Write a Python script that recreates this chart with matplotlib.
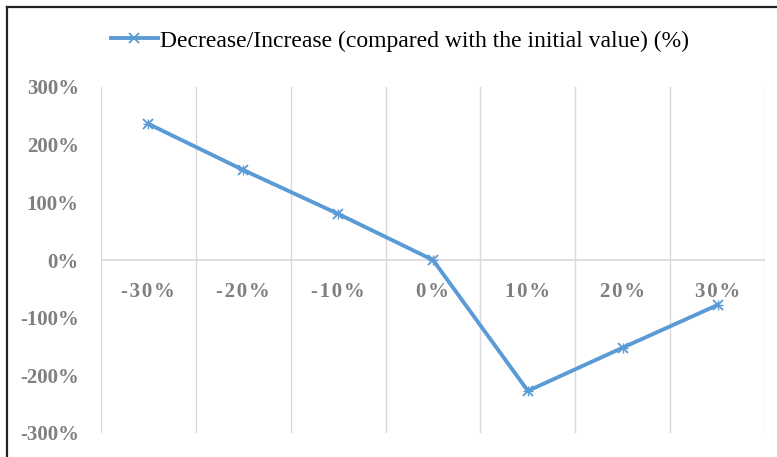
import matplotlib.pyplot as plt
from matplotlib.lines import Line2D

plt.rcParams['font.family'] = ['Liberation Serif', 'DejaVu Serif']

categories = ["-30%", "-20%", "-10%", "0%", "10%", "20%", "30%"]
change = [236, 156, 80, 0, -227, -152, -78]
y_ticks = [-300, -200, -100, 0, 100, 200, 300]
series_name = "Decrease/Increase (compared with the initial value) (%)"

W, H = 777, 457
fig = plt.figure(figsize=(W / 100, H / 100), dpi=100)
ax = fig.add_axes([101 / W, 1 - 433 / H, (765 - 101) / W, (433 - 87) / H])

x = list(range(len(categories)))
blue = "#5b9bd5"
ax.plot(x, change, color=blue, lw=2.8, marker="x", ms=7, mew=1.3,
        label=series_name, zorder=3)
ax.plot(x, change, ls="none", marker="+", ms=7, mew=1.0, color=blue, zorder=3)

ax.set_xlim(-0.5, len(categories) - 0.5)
ax.set_ylim(-300, 300)
ax.set_yticks(y_ticks)
ax.set_yticklabels([f"{v}%" for v in y_ticks], fontsize=15,
                   fontweight="bold", color="#7f7f7f")
ax.tick_params(axis="y", length=0, pad=16)
ax.set_xticks([])

# category gridlines
for b in range(len(categories) + 1):
    ax.axvline(b - 0.5, color="#d9d9d9", lw=1, zorder=1)
ax.axhline(0, color="#d9d9d9", lw=1.2, zorder=1)

# category labels sit just under the zero line
for i, c in enumerate(categories):
    ax.text(i, -55, "\u200a".join(c), ha="center", va="center",
            fontsize=15, fontweight="bold", color="#7f7f7f", zorder=2)

for s in ax.spines.values():
    s.set_visible(False)

handle = Line2D([], [], color=blue, lw=2.8, marker="x", ms=7, mew=1.3)
fig.legend([handle], [series_name], loc="center",
           bbox_to_anchor=(400 / W, 1 - 41 / H),
           frameon=False, fontsize=17, handlelength=2.0, handletextpad=0.1)

# outer frame (left and top only are visible)
fig.add_artist(Line2D([6.5 / W, 6.5 / W], [0, 1 - 6.5 / H], color="#222222",
                      lw=1.6, transform=fig.transFigure))
fig.add_artist(Line2D([6.5 / W, 1], [1 - 6.5 / H, 1 - 6.5 / H], color="#222222",
                      lw=1.6, transform=fig.transFigure))

fig.savefig("out.png", dpi=100)
